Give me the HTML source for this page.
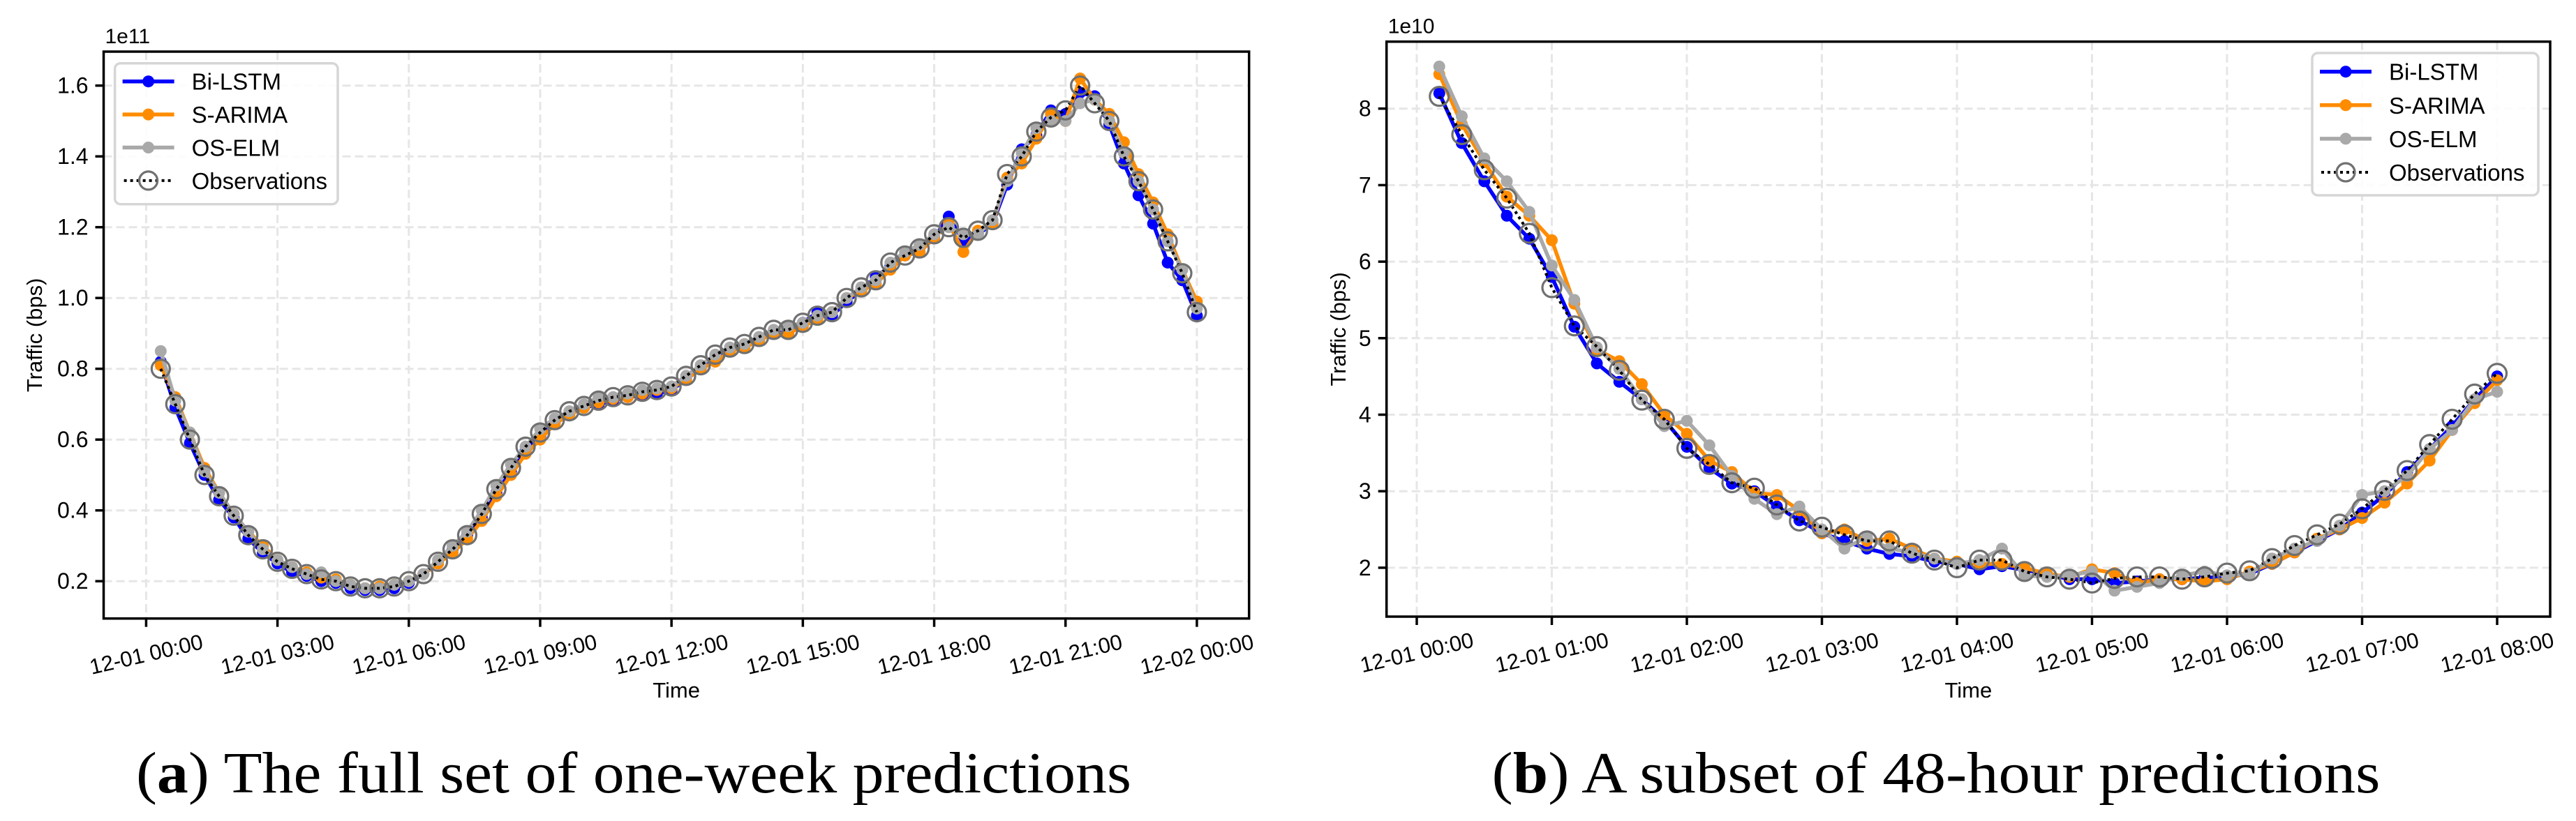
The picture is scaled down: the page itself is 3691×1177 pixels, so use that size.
<!DOCTYPE html>
<html><head><meta charset="utf-8"><style>
html,body{margin:0;padding:0;background:#fff;}
svg{display:block;font-family:"Liberation Sans",Arial,sans-serif;}
</style></head><body>
<svg id="fig" width="3691" height="1177" viewBox="0 0 3691 1177" xmlns="http://www.w3.org/2000/svg">
<g id="pa"></g>
<g id="pb"></g>
<text x="908" y="1136" text-anchor="middle" font-family="'Liberation Serif',serif" font-size="84" textLength="1426" lengthAdjust="spacingAndGlyphs">(<tspan font-weight="bold">a</tspan>) The full set of one-week predictions</text>
<text x="2774" y="1136" text-anchor="middle" font-family="'Liberation Serif',serif" font-size="84" textLength="1273" lengthAdjust="spacingAndGlyphs">(<tspan font-weight="bold">b</tspan>) A subset of 48-hour predictions</text>
</svg>
<script>
// ---- Chart A data (x1e11 bps), 20-min steps from 00:20 to 24:00 ----
const obsA=[0.80,0.70,0.60,0.50,0.44,0.385,0.33,0.29,0.255,0.235,0.22,0.205,0.20,0.185,0.18,0.18,0.185,0.20,0.22,0.255,0.29,0.33,0.39,0.46,0.52,0.58,0.62,0.655,0.68,0.695,0.71,0.72,0.725,0.735,0.74,0.75,0.78,0.81,0.84,0.86,0.87,0.89,0.91,0.91,0.93,0.95,0.96,1.00,1.03,1.05,1.10,1.12,1.14,1.18,1.20,1.17,1.19,1.22,1.35,1.40,1.47,1.51,1.53,1.60,1.55,1.50,1.40,1.33,1.25,1.16,1.07,0.96];
const bilstmA=[0.82,0.69,0.59,0.50,0.43,0.38,0.32,0.28,0.25,0.225,0.215,0.20,0.195,0.18,0.175,0.175,0.18,0.195,0.22,0.25,0.29,0.33,0.38,0.45,0.51,0.57,0.61,0.65,0.675,0.69,0.70,0.71,0.72,0.725,0.73,0.74,0.77,0.80,0.83,0.855,0.865,0.88,0.905,0.90,0.93,0.96,0.95,0.99,1.02,1.06,1.09,1.12,1.13,1.17,1.23,1.16,1.18,1.21,1.32,1.42,1.46,1.53,1.52,1.58,1.57,1.49,1.38,1.29,1.21,1.10,1.05,0.95];
const sarimaA=[0.81,0.72,0.62,0.52,0.45,0.39,0.34,0.30,0.26,0.24,0.225,0.21,0.205,0.19,0.18,0.185,0.19,0.20,0.22,0.25,0.28,0.32,0.37,0.44,0.50,0.56,0.60,0.645,0.67,0.69,0.705,0.715,0.72,0.73,0.74,0.745,0.77,0.80,0.82,0.85,0.86,0.88,0.90,0.90,0.92,0.94,0.96,1.00,1.02,1.04,1.08,1.12,1.13,1.17,1.21,1.13,1.19,1.21,1.34,1.38,1.45,1.52,1.50,1.62,1.56,1.52,1.44,1.35,1.27,1.18,1.08,0.99];
const oselmA=[0.85,0.71,0.62,0.51,0.45,0.39,0.34,0.29,0.26,0.24,0.22,0.225,0.20,0.19,0.18,0.18,0.19,0.20,0.22,0.26,0.30,0.34,0.40,0.47,0.53,0.58,0.63,0.66,0.68,0.70,0.72,0.72,0.73,0.74,0.745,0.75,0.78,0.81,0.84,0.86,0.87,0.89,0.91,0.92,0.93,0.95,0.96,1.00,1.03,1.05,1.10,1.13,1.15,1.18,1.20,1.18,1.18,1.22,1.33,1.41,1.48,1.50,1.50,1.55,1.56,1.50,1.41,1.33,1.25,1.16,1.08,0.97];
const yTicksA=[0.2,0.4,0.6,0.8,1.0,1.2,1.4,1.6];
const xTicksA=["12-01 00:00","12-01 03:00","12-01 06:00","12-01 09:00","12-01 12:00","12-01 15:00","12-01 18:00","12-01 21:00","12-02 00:00"];
// ---- Chart B data (x1e10 bps), 10-min steps from 00:10 to 08:00 ----
const obsB=[8.16,7.66,7.20,6.83,6.37,5.66,5.16,4.89,4.58,4.19,3.94,3.56,3.35,3.11,3.04,2.82,2.61,2.53,2.43,2.35,2.35,2.19,2.10,2.00,2.10,2.10,1.95,1.88,1.85,1.80,1.86,1.88,1.88,1.85,1.88,1.93,1.96,2.12,2.29,2.43,2.57,2.77,3.01,3.27,3.61,3.94,4.27,4.54];
const bilstmB=[8.2,7.55,7.05,6.6,6.3,5.8,5.15,4.67,4.43,4.2,3.93,3.58,3.3,3.1,3.0,2.8,2.62,2.45,2.35,2.25,2.18,2.15,2.08,2.05,1.98,2.02,1.97,1.92,1.85,1.85,1.8,1.82,1.85,1.85,1.87,1.88,1.92,2.05,2.2,2.35,2.5,2.72,2.95,3.25,3.55,3.85,4.2,4.5];
const sarimaB=[8.45,7.8,7.3,6.85,6.6,6.28,5.45,4.85,4.7,4.4,4.0,3.75,3.4,3.25,2.98,2.95,2.75,2.45,2.5,2.35,2.38,2.25,2.12,2.08,2.05,2.05,2.0,1.92,1.88,1.98,1.93,1.8,1.85,1.85,1.82,1.85,1.95,2.05,2.2,2.38,2.5,2.65,2.85,3.1,3.4,3.8,4.15,4.45];
const oselmB=[8.55,7.9,7.35,7.05,6.65,5.95,5.5,4.88,4.6,4.2,3.85,3.92,3.6,3.2,2.9,2.7,2.8,2.5,2.25,2.4,2.25,2.2,2.12,2.05,2.1,2.25,1.9,1.88,1.9,1.95,1.7,1.75,1.8,1.9,1.95,1.9,1.92,2.12,2.25,2.35,2.55,2.95,3.0,3.2,3.55,3.8,4.2,4.3];
const yTicksB=[2,3,4,5,6,7,8];
const xTicksB=["12-01 00:00","12-01 01:00","12-01 02:00","12-01 03:00","12-01 04:00","12-01 05:00","12-01 06:00","12-01 07:00","12-01 08:00"];
const legendLabels=["Bi-LSTM","S-ARIMA","OS-ELM","Observations"];

const NS="http://www.w3.org/2000/svg";
function mk(parent,tag,attrs){const e=document.createElementNS(NS,tag);for(const k in attrs)e.setAttribute(k,attrs[k]);parent.appendChild(e);return e;}

function drawChart(g,cfg){
  const X=t=>cfg.x0+t*cfg.pxPerHour;
  const Y=v=>cfg.yRef+(cfg.vRef-v)*cfg.pxPerUnit;
  cfg.yTicks.forEach(v=>{const l=mk(g,'line',{x1:cfg.L,x2:cfg.R,y1:Y(v),y2:Y(v),stroke:'#e6e6e6','stroke-width':3,'stroke-dasharray':'12 6'});
    
    });
  cfg.xTicks.forEach((s,i)=>{const x=X(i*cfg.tickStep);const l=mk(g,'line',{x1:x,x2:x,y1:cfg.T,y2:cfg.B,stroke:'#e6e6e6','stroke-width':3,'stroke-dasharray':'12 6'});
    
    });
  const series=[[cfg.bilstm,'#0000ff','bilstm'],[cfg.sarima,'#ff8c00','sarima'],[cfg.oselm,'#a9a9a9','oselm']];
  series.forEach(([arr,col,nm])=>{
    const pts=arr.map((v,i)=>X(cfg.t0+i*cfg.dt)+','+Y(v)).join(' ');
    const pl=mk(g,'polyline',{points:pts,fill:'none',stroke:col,'stroke-width':5.5,'stroke-linejoin':'round'});
    
    
    arr.forEach((v,i)=>{const c=mk(g,'circle',{cx:X(cfg.t0+i*cfg.dt),cy:Y(v),r:cfg.mr,fill:col});
      
      });
  });
  const opts=cfg.obs.map((v,i)=>X(cfg.t0+i*cfg.dt)+','+Y(v)).join(' ');
  const ol=mk(g,'polyline',{points:opts,fill:'none',stroke:'#000','stroke-width':4,'stroke-dasharray':'4 5'});
  
  
  cfg.obs.forEach((v,i)=>{const c=mk(g,'circle',{cx:X(cfg.t0+i*cfg.dt),cy:Y(v),r:cfg.or,fill:'none',stroke:'#707070','stroke-width':3.2});
    
    });
  const fr=mk(g,'rect',{x:cfg.L,y:cfg.T,width:cfg.R-cfg.L,height:cfg.B-cfg.T,fill:'none',stroke:'#000','stroke-width':3.5});
  
  
  cfg.yTicks.forEach(v=>{
    const tk=mk(g,'line',{x1:cfg.L-12,x2:cfg.L,y1:Y(v),y2:Y(v),stroke:'#000','stroke-width':3.5});
    
    
    const tx=mk(g,'text',{x:cfg.L-22,y:Y(v)+11,'text-anchor':'end','font-size':32});
    tx.textContent=cfg.yFmt(v);
    
    
  });
  cfg.xTicks.forEach((s,i)=>{
    const x=X(i*cfg.tickStep);
    const tk=mk(g,'line',{x1:x,x2:x,y1:cfg.B,y2:cfg.B+12,stroke:'#000','stroke-width':3.5});
    
    
    const tx=mk(g,'text',{x:x,y:cfg.B+62,'text-anchor':'middle','font-size':31,transform:'rotate(-13 '+x+' '+(cfg.B+51)+')'});
    tx.textContent=s;
    
    
  });
  const off=mk(g,'text',{x:cfg.L+2,y:cfg.T-12,'font-size':30});
  off.textContent=cfg.offset;
  
  
  const xt=mk(g,'text',{x:(cfg.L+cfg.R)/2,y:1000,'text-anchor':'middle','font-size':31});
  xt.textContent='Time';
  
  
  const yt=mk(g,'text',{x:cfg.ylx,y:(cfg.T+cfg.B)/2,'text-anchor':'middle','font-size':31,transform:'rotate(-90 '+cfg.ylx+' '+((cfg.T+cfg.B)/2)+')'});
  yt.textContent='Traffic (bps)';
  
  
  const lg=mk(g,'g',{});
  
  
  const Lg=cfg.leg;
  mk(lg,'rect',{x:Lg.x,y:Lg.y,width:Lg.w,height:Lg.h,rx:8,fill:'#fff','fill-opacity':0.85,stroke:'#d6d6d6','stroke-width':3.5});
  const cols=['#0000ff','#ff8c00','#a9a9a9'];
  legendLabels.forEach((lab,i)=>{
    const yy=Lg.y+Lg.y0+i*Lg.dy;
    const e=mk(lg,'g',{});
    
    
    if(i<3){
      mk(e,'line',{x1:Lg.x+11,x2:Lg.x+85,y1:yy,y2:yy,stroke:cols[i],'stroke-width':5.5});
      mk(e,'circle',{cx:Lg.x+48,cy:yy,r:8.5,fill:cols[i]});
    }else{
      mk(e,'line',{x1:Lg.x+13,x2:Lg.x+85,y1:yy,y2:yy,stroke:'#000','stroke-width':4,'stroke-dasharray':'4 5'});
      mk(e,'circle',{cx:Lg.x+48,cy:yy,r:13,fill:'none',stroke:'#707070','stroke-width':3.2});
    }
    const t=mk(e,'text',{x:Lg.x+110,y:yy+12,'font-size':33});
    t.textContent=lab;
  });
}

drawChart(document.getElementById('pa'),{
  L:148.5,R:1789.7,T:74,B:886.7,x0:209.4,pxPerHour:62.73,yRef:122.7,vRef:1.6,pxPerUnit:507.5,
  t0:1/3,dt:1/3,tickStep:3,mr:8.5,or:13,
  obs:obsA,bilstm:bilstmA,sarima:sarimaA,oselm:oselmA,yTicks:yTicksA,xTicks:xTicksA,
  yFmt:v=>v.toFixed(1),offset:'1e11',ylx:60,
  leg:{x:164.6,y:90.7,w:319.4,h:202,y0:26,dy:47.4}
});
drawChart(document.getElementById('pb'),{
  L:1986.7,R:3654,T:59.7,B:884,x0:2030,pxPerHour:193.5,yRef:155.7,vRef:8,pxPerUnit:109.7,
  t0:1/6,dt:1/6,tickStep:1,mr:8.5,or:13.5,
  obs:obsB,bilstm:bilstmB,sarima:sarimaB,oselm:oselmB,yTicks:yTicksB,xTicks:xTicksB,
  yFmt:v=>String(v),offset:'1e10',ylx:1928,
  leg:{x:3313,y:76,w:324,h:204,y0:26.7,dy:48.1}
});
</script>
</body></html>
